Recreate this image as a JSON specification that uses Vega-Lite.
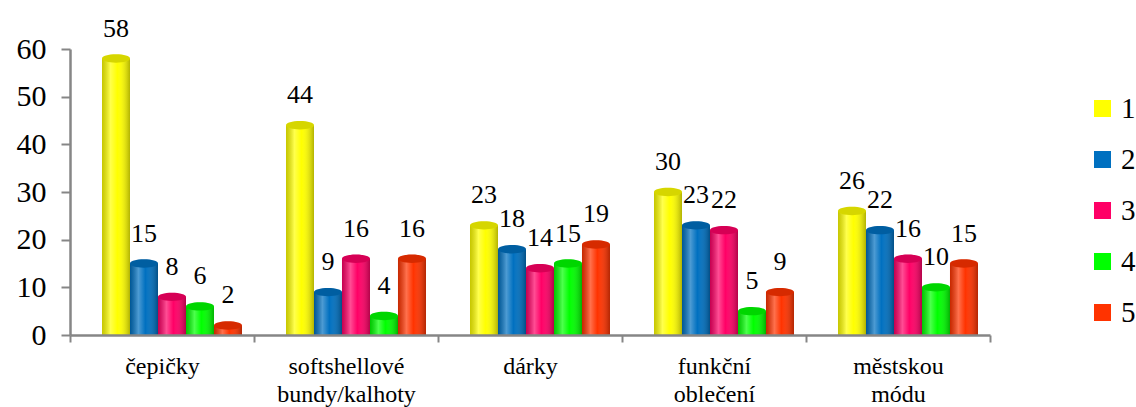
{
  "$schema": "https://vega.github.io/schema/vega-lite/v6.json",
  "width": 920,
  "height": 286,
  "autosize": {"type": "none"},
  "padding": {"left": 70, "top": 49, "right": 146, "bottom": 72},
  "config": {
    "view": {"stroke": null},
    "font": "Times New Roman, Liberation Serif, serif",
    "axis": {"labelFont": "Times New Roman, Liberation Serif, serif", "labelColor": "#000000", "grid": false, "title": null},
    "legend": {"labelFont": "Times New Roman, Liberation Serif, serif"}
  },
  "data": {
    "values": [
      {"kategorie": "čepičky", "hodnoceni": "1", "pocet": 58},
      {"kategorie": "čepičky", "hodnoceni": "2", "pocet": 15},
      {"kategorie": "čepičky", "hodnoceni": "3", "pocet": 8},
      {"kategorie": "čepičky", "hodnoceni": "4", "pocet": 6},
      {"kategorie": "čepičky", "hodnoceni": "5", "pocet": 2},
      {"kategorie": "softshellové bundy/kalhoty", "hodnoceni": "1", "pocet": 44},
      {"kategorie": "softshellové bundy/kalhoty", "hodnoceni": "2", "pocet": 9},
      {"kategorie": "softshellové bundy/kalhoty", "hodnoceni": "3", "pocet": 16},
      {"kategorie": "softshellové bundy/kalhoty", "hodnoceni": "4", "pocet": 4},
      {"kategorie": "softshellové bundy/kalhoty", "hodnoceni": "5", "pocet": 16},
      {"kategorie": "dárky", "hodnoceni": "1", "pocet": 23},
      {"kategorie": "dárky", "hodnoceni": "2", "pocet": 18},
      {"kategorie": "dárky", "hodnoceni": "3", "pocet": 14},
      {"kategorie": "dárky", "hodnoceni": "4", "pocet": 15},
      {"kategorie": "dárky", "hodnoceni": "5", "pocet": 19},
      {"kategorie": "funkční oblečení", "hodnoceni": "1", "pocet": 30},
      {"kategorie": "funkční oblečení", "hodnoceni": "2", "pocet": 23},
      {"kategorie": "funkční oblečení", "hodnoceni": "3", "pocet": 22},
      {"kategorie": "funkční oblečení", "hodnoceni": "4", "pocet": 5},
      {"kategorie": "funkční oblečení", "hodnoceni": "5", "pocet": 9},
      {"kategorie": "městskou módu", "hodnoceni": "1", "pocet": 26},
      {"kategorie": "městskou módu", "hodnoceni": "2", "pocet": 22},
      {"kategorie": "městskou módu", "hodnoceni": "3", "pocet": 16},
      {"kategorie": "městskou módu", "hodnoceni": "4", "pocet": 10},
      {"kategorie": "městskou módu", "hodnoceni": "5", "pocet": 15}
    ]
  },
  "encoding": {
    "x": {
      "field": "kategorie",
      "type": "nominal",
      "sort": null,
      "scale": {"paddingInner": 0, "paddingOuter": 0},
      "axis": {
        "labelAngle": 0,
        "labelFontSize": 24,
        "labelLineHeight": 28,
        "labelBaseline": "top",
        "labelPadding": 12,
        "labelExpr": "split(datum.label, ' ')",
        "tickBand": "extent",
        "tickSize": 7,
        "tickWidth": 2,
        "tickColor": "#868686",
        "domainColor": "#868686",
        "domainWidth": 2.5,
        "zindex": 1
      }
    },
    "xOffset": {
      "field": "hodnoceni",
      "type": "nominal",
      "scale": {"paddingInner": 0, "paddingOuter": 0.786, "align": 0.727}
    },
    "y": {
      "field": "pocet",
      "type": "quantitative",
      "scale": {"domain": [0, 60], "nice": false},
      "axis": {
        "values": [0, 10, 20, 30, 40, 50, 60],
        "labelFontSize": 30,
        "labelPadding": 15,
        "tickSize": 9,
        "tickWidth": 2,
        "tickColor": "#868686",
        "domainColor": "#868686",
        "domainWidth": 2.5
      }
    }
  },
  "layer": [
    {
      "mark": {"type": "bar"},
      "encoding": {
        "color": {
          "field": "hodnoceni",
          "type": "nominal",
          "scale": {
            "domain": ["1", "2", "3", "4", "5"],
            "range": ["#FFFF00", "#0070C0", "#FF0066", "#00FF00", "#FF3300"]
          },
          "legend": {
            "title": null,
            "orient": "none",
            "legendX": 1018,
            "legendY": 45,
            "padding": 0,
            "symbolType": "square",
            "symbolSize": 289,
            "symbolStrokeWidth": 0,
            "symbolOpacity": 1,
            "labelFontSize": 29,
            "labelOffset": 4,
            "rowPadding": 21,
            "labelColor": "#000000"
          }
        }
      }
    },
    {
      "mark": {
        "type": "bar",
        "color": {
          "gradient": "linear",
          "x1": 0, "x2": 1, "y1": 0, "y2": 0,
          "stops": [
            {"offset": 0, "color": "rgba(0,0,0,0.22)"},
            {"offset": 0.3, "color": "rgba(255,255,255,0.3)"},
            {"offset": 0.55, "color": "rgba(255,255,255,0)"},
            {"offset": 1, "color": "rgba(0,0,0,0.3)"}
          ]
        }
      }
    },
    {
      "mark": {
        "type": "point",
        "filled": true,
        "opacity": 1,
        "size": 784,
        "shape": "M-1,0A1,0.3,0,1,1,1,0A1,0.3,0,1,1,-1,0Z"
      },
      "encoding": {
        "color": {"field": "hodnoceni", "type": "nominal"}
      }
    },
    {
      "mark": {
        "type": "point",
        "filled": true,
        "color": "#000000",
        "opacity": 0.16,
        "size": 784,
        "shape": "M-1,0A1,0.3,0,1,1,1,0A1,0.3,0,1,1,-1,0Z"
      }
    },
    {
      "mark": {
        "type": "text",
        "fontSize": 26,
        "color": "#000000",
        "baseline": "alphabetic",
        "dy": -22
      },
      "encoding": {
        "text": {"field": "pocet", "type": "quantitative"}
      }
    }
  ]
}
